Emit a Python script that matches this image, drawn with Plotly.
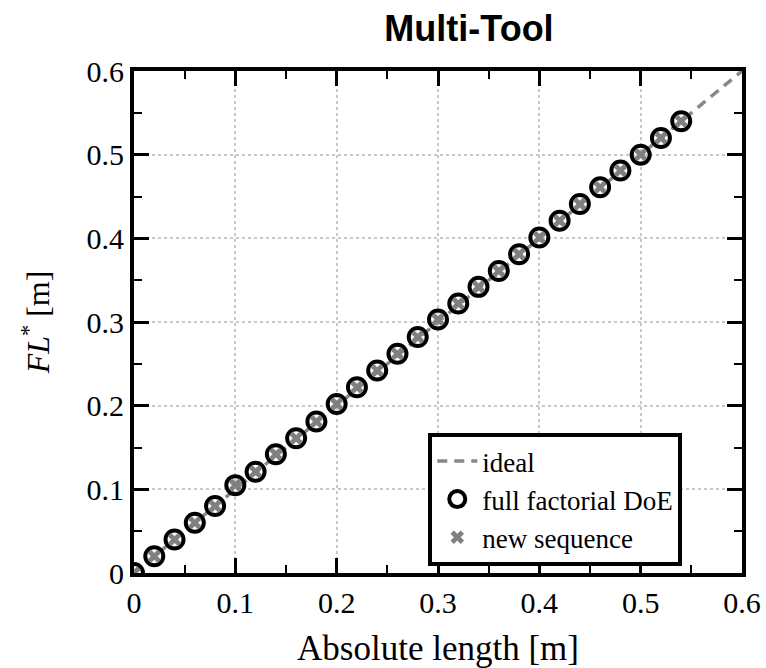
import plotly.graph_objects as go

abs_len = [0.00, 0.02, 0.04, 0.06, 0.08, 0.10, 0.12, 0.14, 0.16, 0.18, 0.20, 0.22, 0.24, 0.26,
           0.28, 0.30, 0.32, 0.34, 0.36, 0.38, 0.40, 0.42, 0.44, 0.46, 0.48, 0.50, 0.52, 0.54]
fl_doe = [0.000, 0.020, 0.040, 0.060, 0.080, 0.105, 0.121, 0.142, 0.161, 0.181, 0.202, 0.222, 0.242, 0.262,
          0.282, 0.303, 0.322, 0.342, 0.361, 0.381, 0.401, 0.421, 0.441, 0.461, 0.481, 0.500, 0.520, 0.540]
fl_new = list(fl_doe)
ideal_x = [0.0, 0.6]
ideal_y = [0.0, 0.6]

serif = "Liberation Serif"
fig = go.Figure()
fig.add_trace(go.Scatter(x=ideal_x, y=ideal_y, mode="lines", name="ideal",
                         line=dict(color="#888888", width=3.5, dash="10px,7px")))
fig.add_trace(go.Scatter(x=abs_len, y=fl_doe, mode="markers", name="full factorial DoE",
                         marker=dict(symbol="circle-open", size=18, color="black",
                                     line=dict(width=4, color="black"))))
fig.add_trace(go.Scatter(x=abs_len, y=fl_new, mode="markers", name="new sequence",
                         marker=dict(symbol="x", size=12, color="#808080",
                                     line=dict(width=0))))

axis_common = dict(range=[0, 0.6], dtick=0.1, tick0=0, ticks="inside", ticklen=15, tickwidth=2.5,
                   tickcolor="black", showline=True, linewidth=4, linecolor="black", mirror="allticks",
                   showgrid=True, gridcolor="#c8c8c8", griddash="dot", gridwidth=1.5,
                   zeroline=False, automargin=False, tickfont=dict(family=serif, size=30, color="black"),
                   minor=dict(ticks="inside", ticklen=8, tickwidth=1.5, dtick=0.05, tickcolor="black",
                              showgrid=False))

fig.update_xaxes(**axis_common, title=dict(text="Absolute length [m]", font=dict(family=serif, size=35, color="black"),
                                           standoff=18))
fig.update_yaxes(**axis_common, title=dict(text="<i>FL</i><sup>*</sup> [m]", font=dict(family=serif, size=32, color="black"),
                                           standoff=28))

fig.update_layout(
    width=766, height=668,
    margin=dict(l=134, r=24, t=71, b=95),
    paper_bgcolor="white", plot_bgcolor="white",
    title=dict(text="<b>Multi-Tool</b>", x=469/766, xanchor="center", y=1-28/668, yanchor="middle",
               font=dict(family="Liberation Sans", size=36, color="black")),
    legend=dict(x=0.484, y=0.279, xanchor="left", yanchor="top", bgcolor="white",
                bordercolor="black", borderwidth=4, itemwidth=40,
                font=dict(family=serif, size=27, color="black"), tracegroupgap=0),
    showlegend=True,
)

fig.write_html("out.html")
